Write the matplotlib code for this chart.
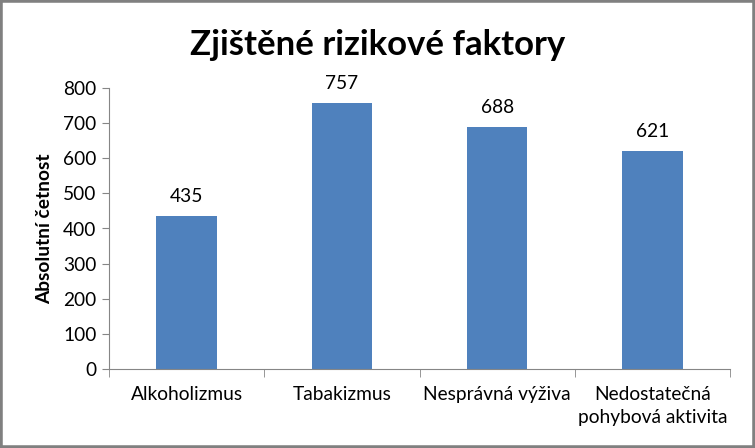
import matplotlib
matplotlib.use("Agg")
import matplotlib.pyplot as plt
from matplotlib.patches import Rectangle

categories = ["Alkoholizmus", "Tabakizmus", "Nesprávná výživa", "Nedostatečná\npohybová aktivita"]
values = [435, 757, 688, 621]
yticks = [0, 100, 200, 300, 400, 500, 600, 700, 800]

plt.rcParams['font.family'] = ['Lato', 'DejaVu Sans']

fig = plt.figure(figsize=(7.55, 4.48), dpi=100)
ax = fig.add_axes([109/755, 1-369/448, 621/755, 281/448])

x = list(range(len(categories)))
ax.bar(x, values, width=0.39, color="#4F81BD", zorder=2)
for xi, v in zip(x, values):
    ax.annotate(str(v), (xi, v), xytext=(0, 8), textcoords="offset points",
                ha="center", va="bottom", fontsize=13.8, color="black",
                annotation_clip=False)

ax.set_xlim(-0.5, len(categories) - 0.5)
ax.set_ylim(0, 800)
ax.set_yticks(yticks)
ax.set_yticklabels([str(t) for t in yticks], fontsize=13.8)
ax.set_xticks(x)
ax.set_xticklabels(categories, fontsize=13.8, linespacing=1.45)
ax.tick_params(axis="x", length=0, pad=12)
ax.tick_params(axis="y", length=5, color="#868686", pad=4)
# category boundary ticks
ax.set_xticks([i - 0.5 for i in range(len(categories) + 1)], minor=True)
ax.tick_params(axis="x", which="minor", length=6, color="#868686")
for s in ["top", "right"]:
    ax.spines[s].set_visible(False)
for s in ["left", "bottom"]:
    ax.spines[s].set_color("#868686")
ax.set_ylabel("Absolutní četnost", fontsize=13.8, fontweight="bold", labelpad=7)

fig.text(0.5, 1 - 45/448, "Zjištěné rizikové faktory", ha="center", va="center",
         fontsize=25, fontweight="bold")

fig.patches.append(Rectangle((0, 0), 1, 1, transform=fig.transFigure, fill=False,
                             edgecolor="#808080", linewidth=4, zorder=10))

fig.savefig("out.png", dpi=100)
